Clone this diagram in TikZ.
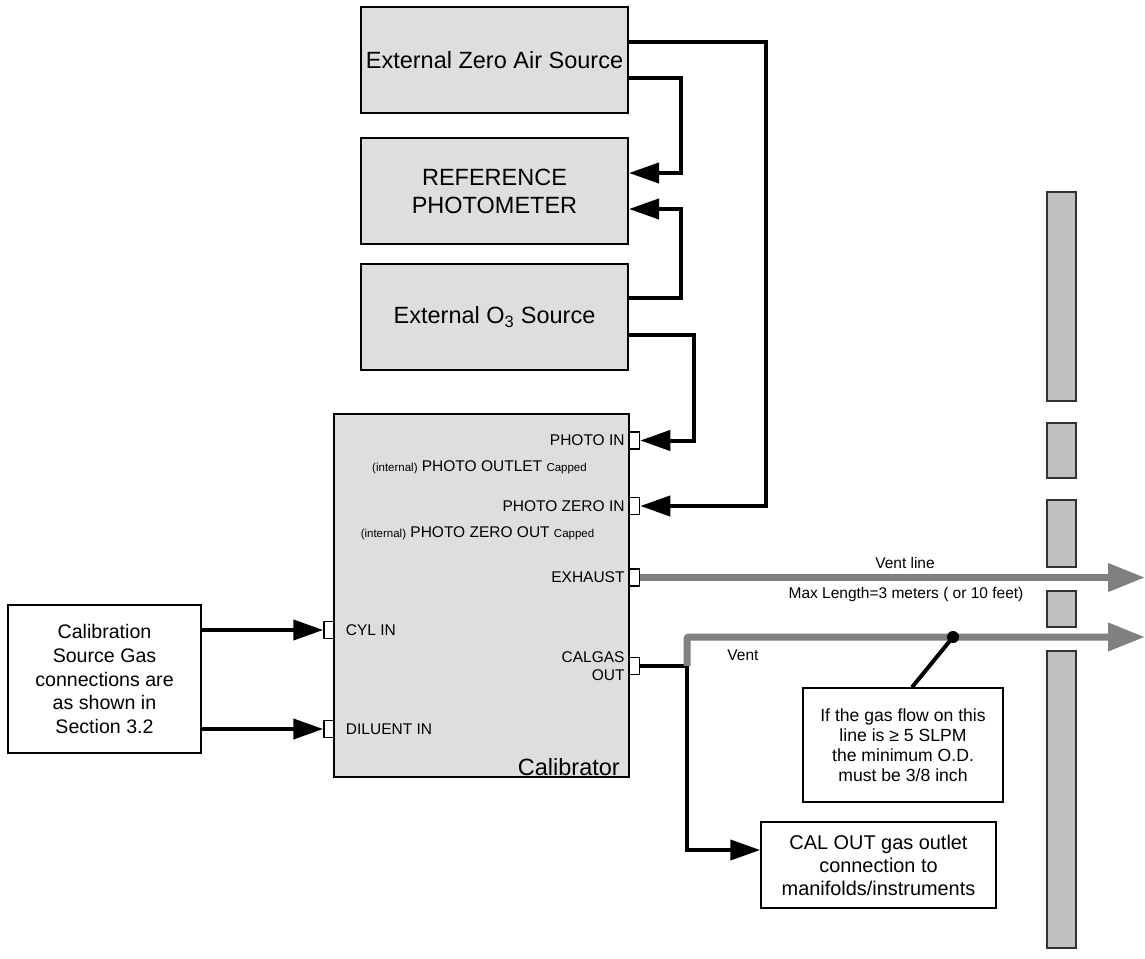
\documentclass[tikz,border=0pt]{standalone}
\usepackage{fontspec}
\setmainfont{Liberation Sans}
\usepackage{xcolor}
\usepackage{tikz}
\usetikzlibrary{arrows.meta,positioning}
\definecolor{boxgray}{HTML}{DEDEDE}
\definecolor{wallgray}{HTML}{C0C0C0}
\definecolor{pipegray}{HTML}{808080}
\tikzset{
  srcbox/.style={rectangle, draw, line width=2pt, fill=boxgray, minimum width=267pt,
    minimum height=106pt, align=center, font=\fontsize{23.5}{28}\selectfont},
  txtbox/.style={rectangle, draw, line width=1.5pt, fill=white, align=center, inner sep=0pt},
  port/.style={rectangle, draw, line width=1.5pt, fill=white, minimum width=10pt,
    minimum height=17pt, inner sep=0pt},
  wall/.style={draw=black!80, line width=1.5pt, fill=wallgray},
  plbl/.style={inner sep=0pt, font=\fontsize{15.5}{18}\selectfont},
  arr/.style={-{Triangle[length=30pt,width=20pt]}, line width=4pt},
  pipe/.style={line width=4pt},
  vent/.style={draw=pipegray, line width=7pt, -{Triangle[length=37pt,width=27pt]}},
}
\newcommand{\smallnote}{\fontsize{11.5}{13}\selectfont}

\begin{document}
\begin{tikzpicture}[x=1pt, y=1pt, node distance=23pt]
  \useasboundingbox (0,0) rectangle (1145,-958);
  % source boxes (top column)
  \node[srcbox] (zeroair) at (494.5,-60) {External Zero Air Source};
  \node[srcbox, below=of zeroair] (refphoto) {REFERENCE\\PHOTOMETER};
  \node[srcbox, below=18pt of refphoto] (othree) {External O\textsubscript{3} Source};
  % calibrator and its ports
  \node[rectangle, draw, line width=2pt, fill=boxgray, minimum width=295pt,
        minimum height=363pt] (calib) at (481.5,-595.5) {};
  \node[port] (pin)  at (634.5,-440.5) {};
  \node[port] (pzin) at (634.5,-506) {};
  \node[port] (exh)  at (634.5,-577.5) {};
  \node[port] (calg) at (634.5,-666) {};
  \node[port] (cyl)  at (329,-630) {};
  \node[port] (dil)  at (329,-729) {};
  \node[plbl, left=4pt of pin] (pinlbl) {PHOTO IN};
  \node[plbl, left=4pt of pzin] (pzinlbl) {PHOTO ZERO IN};
  \node[plbl, left=4pt of exh] (exhlbl) {EXHAUST};
  \node[plbl, left=4pt of calg, align=right] (calglbl) {CALGAS\\OUT};
  \node[plbl, right=11pt of cyl] (cyllbl) {CYL IN};
  \node[plbl, right=11pt of dil] (dillbl) {DILUENT IN};
  \node[plbl] (poutlbl) at (479.5,-467) {{\smallnote (internal)} PHOTO OUTLET {\smallnote Capped}};
  \node[plbl] (pzoutlbl) at (477.5,-533) {{\smallnote (internal)} PHOTO ZERO OUT {\smallnote Capped}};
  \node[inner sep=0pt, anchor=base east, font=\fontsize{23.5}{28}\selectfont] (caliblbl)
    at (620,-775) {Calibrator};
  % text boxes
  \node[txtbox, minimum width=193pt, minimum height=148pt, font=\fontsize{19.6}{23.8}\selectfont]
    (calsrc) at (104.5,-679) {Calibration\\Source Gas\\connections are\\as shown in\\Section 3.2};
  \node[txtbox, minimum width=200pt, minimum height=114pt, font=\fontsize{17.6}{20}\selectfont]
    (note) at (903,-745) {If the gas flow on this\\line is ≥ 5 SLPM\\the minimum O.D.\\must be 3/8 inch};
  \node[txtbox, minimum width=235pt, minimum height=86pt, font=\fontsize{19.9}{23}\selectfont]
    (calout) at (878.5,-865) {CAL OUT gas outlet\\connection to\\manifolds/instruments};
  % wall
  \foreach \ya/\yb in {192/401, 423/478, 500/567, 591/627, 651/948}
    \draw[wall] (1047,-\ya) rectangle (1076,-\yb);
  % free ends
  \coordinate (ventA) at (1145,-577.5);
  \coordinate (ventB) at (1145,-637);
  \coordinate (tee) at (687,-666);
  \coordinate (dot) at (953,-637);
  % connections to photometer and calibrator
  \draw[arr] ([yshift=18pt]zeroair.east) -- ++(137,0) |- (pzin.east);
  \draw[arr] ([yshift=-18pt]zeroair.east) -- ++(52,0) |- ([yshift=18pt]refphoto.east);
  \draw[arr] ([yshift=19pt]othree.east) -- ++(52,0) |- ([yshift=-18pt]refphoto.east);
  \draw[arr] ([yshift=-18pt]othree.east) -- ++(65,0) |- (pin.east);
  \draw[arr] (calsrc.east |- cyl) -- (cyl.west);
  \draw[arr] (calsrc.east |- dil) -- (dil.west);
  % vents
  \draw[vent] (exh.east) -- (ventA);
  \draw[pipe] (calg.east) -- (tee);
  \draw[vent, rounded corners=2pt] (tee) |- (ventB);
  \draw[arr] (tee) |- ([yshift=15pt]calout.west);
  \fill (dot) circle (6pt);
  \draw[pipe] (dot) -- ([xshift=9pt]note.north);
  \node[plbl] (ventlbl) at (905,-563) {Vent line};
  \node[plbl] (maxlbl) at (906,-594) {Max Length=3 meters ( or 10 feet)};
  \node[plbl] (vent2lbl) at (743,-655) {Vent};
\end{tikzpicture}
\end{document}
